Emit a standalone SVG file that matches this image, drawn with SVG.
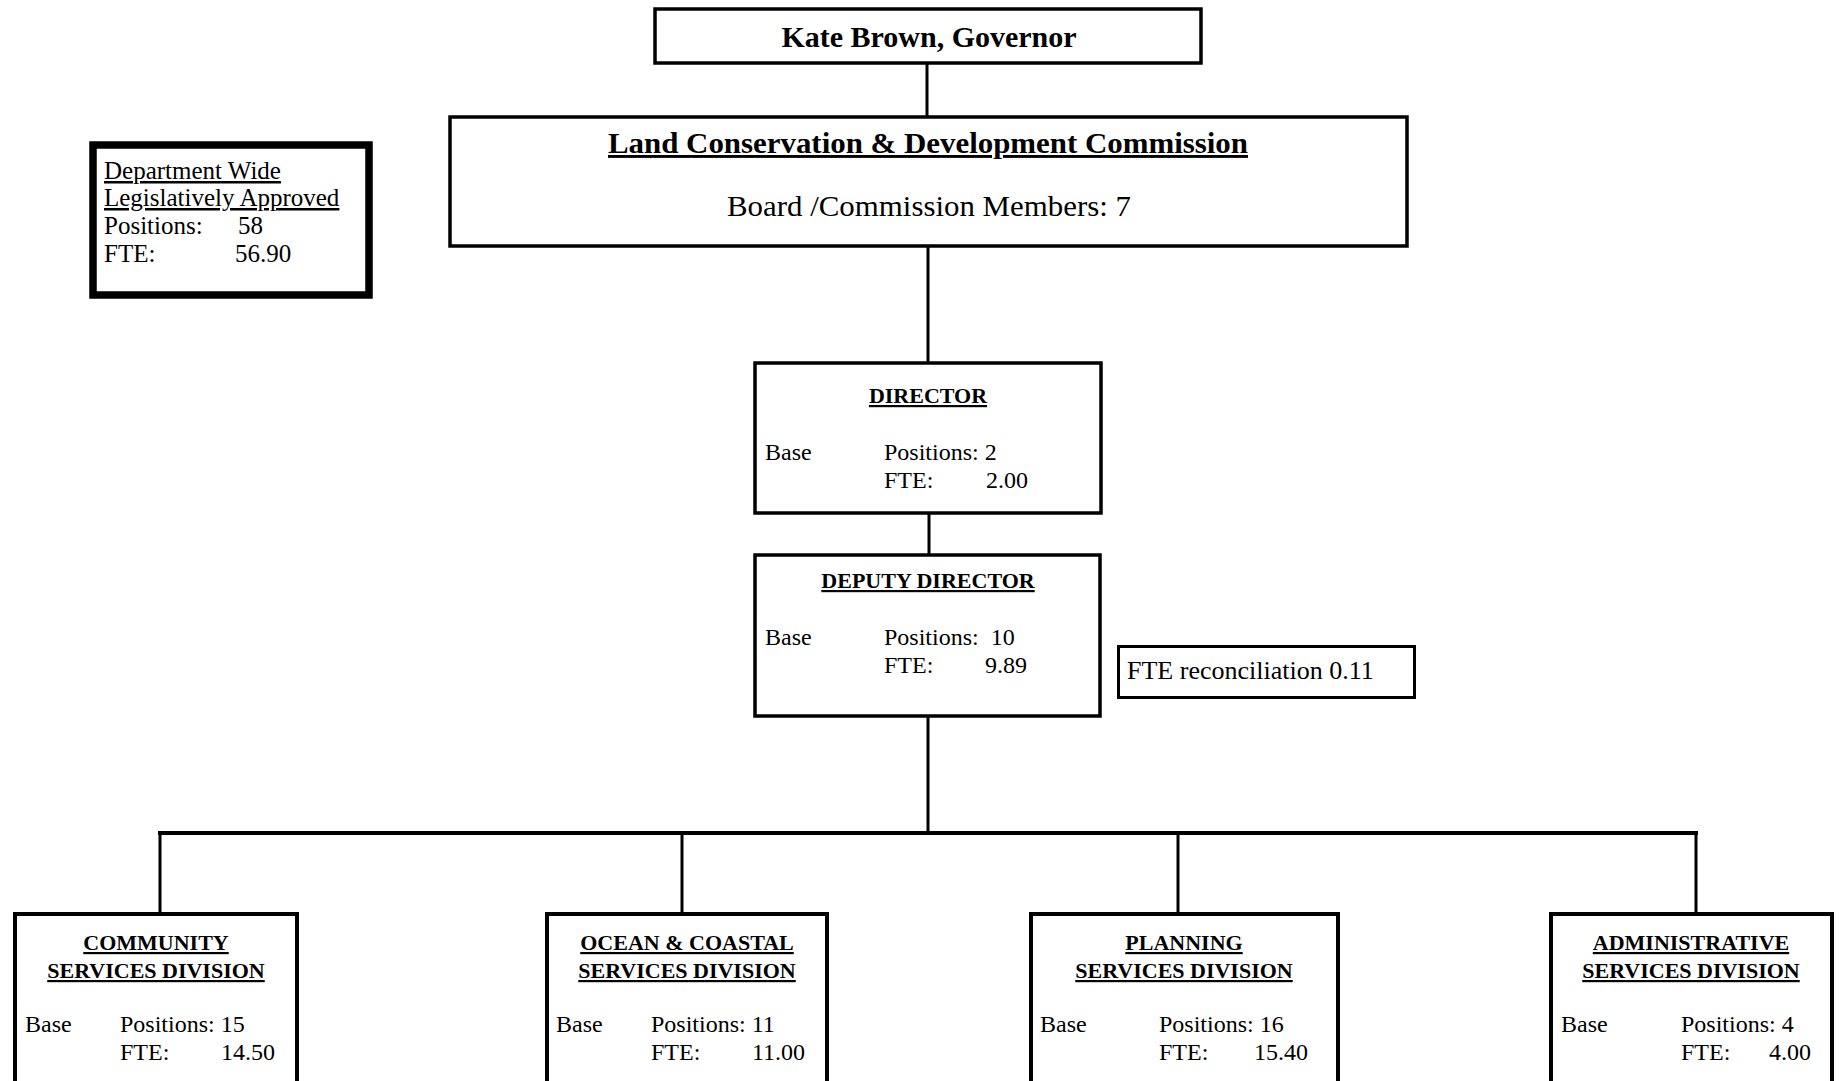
<svg xmlns="http://www.w3.org/2000/svg" width="1841" height="1081" viewBox="0 0 1841 1081">
<style>
.box{fill:#fff;stroke:#000;stroke-width:3.5}
.dbox{fill:#fff;stroke:#000;stroke-width:4}
.conn{stroke:#000;stroke-width:3;fill:none}
.t{font-family:"Liberation Serif","Times New Roman",serif;fill:#000}
.b{font-weight:bold}
.u{text-decoration:underline}
.s22{font-size:22px}
.s24{font-size:24px}
.s25{font-size:25px}
.mid{text-anchor:middle}
</style>
<rect width="1841" height="1081" fill="#fff"/>
<g id="connectors">
<line class="conn" x1="927" y1="63" x2="927" y2="117"/>
<line class="conn" x1="928" y1="246" x2="928" y2="363"/>
<line class="conn" x1="929" y1="513" x2="929" y2="555"/>
<line class="conn" x1="928" y1="716" x2="928" y2="833"/>
<line class="conn" style="stroke-width:4" x1="158" y1="833" x2="1698" y2="833"/>
<line class="conn" x1="160" y1="833" x2="160" y2="914"/>
<line class="conn" x1="682" y1="833" x2="682" y2="914"/>
<line class="conn" x1="1178" y1="833" x2="1178" y2="914"/>
<line class="conn" x1="1696" y1="833" x2="1696" y2="914"/>
</g>
<g id="governor">
<rect class="box" x="655" y="9" width="546" height="54"/>
<text class="t b mid" x="929" y="47" font-size="30">Kate Brown, Governor</text>
</g>
<g id="lcdc">
<rect class="box" x="450" y="117" width="957" height="129"/>
<text class="t b u mid" x="928" y="153" font-size="29" textLength="640" lengthAdjust="spacingAndGlyphs">Land Conservation &amp; Development Commission</text>
<text class="t mid" x="929" y="216" font-size="29" textLength="404" lengthAdjust="spacingAndGlyphs">Board /Commission Members: 7</text>
</g>
<g id="dept-wide">
<rect x="93" y="145" width="276" height="150" fill="#fff" stroke="#000" stroke-width="7.5"/>
<text class="t u s25" x="104" y="179">Department Wide</text>
<text class="t u s25" x="104" y="206">Legislatively Approved</text>
<text class="t s25" x="104" y="234">Positions:</text>
<text class="t s25" x="238" y="234">58</text>
<text class="t s25" x="104" y="262">FTE:</text>
<text class="t s25" x="235" y="262">56.90</text>
</g>
<g id="director">
<rect class="box" x="755" y="363" width="346" height="150"/>
<text class="t b u mid s22" x="928" y="403">DIRECTOR</text>
<text class="t s24" x="765" y="460">Base</text>
<text class="t s24" x="884" y="460">Positions: 2</text>
<text class="t s24" x="884" y="488">FTE:</text>
<text class="t s24" x="986" y="488">2.00</text>
</g>
<g id="deputy-director">
<rect class="box" x="755" y="555" width="345" height="161"/>
<text class="t b u mid s22" x="928" y="588">DEPUTY DIRECTOR</text>
<text class="t s24" x="765" y="645">Base</text>
<text class="t s24" x="884" y="645" xml:space="preserve">Positions:  10</text>
<text class="t s24" x="884" y="673">FTE:</text>
<text class="t s24" x="985" y="673">9.89</text>
</g>
<g id="fte-reconciliation">
<rect x="1118.5" y="646.5" width="296" height="51" fill="#fff" stroke="#000" stroke-width="3"/>
<text class="t" x="1127" y="679" font-size="26">FTE reconciliation 0.11</text>
</g>
<g id="community">
<rect class="dbox" x="15" y="914" width="282" height="200"/>
<text class="t b u mid s22" x="156" y="950">COMMUNITY</text>
<text class="t b u mid s22" x="156" y="978">SERVICES DIVISION</text>
<text class="t s24" x="25" y="1032">Base</text>
<text class="t s24" x="120" y="1032">Positions: 15</text>
<text class="t s24" x="120" y="1060">FTE:</text>
<text class="t s24" x="221" y="1060">14.50</text>
</g>
<g id="ocean-coastal">
<rect class="dbox" x="547" y="914" width="280" height="200"/>
<text class="t b u mid s22" x="687" y="950">OCEAN &amp; COASTAL</text>
<text class="t b u mid s22" x="687" y="978">SERVICES DIVISION</text>
<text class="t s24" x="556" y="1032">Base</text>
<text class="t s24" x="651" y="1032">Positions: 11</text>
<text class="t s24" x="651" y="1060">FTE:</text>
<text class="t s24" x="752" y="1060">11.00</text>
</g>
<g id="planning">
<rect class="dbox" x="1031" y="914" width="307" height="200"/>
<text class="t b u mid s22" x="1184" y="950">PLANNING</text>
<text class="t b u mid s22" x="1184" y="978">SERVICES DIVISION</text>
<text class="t s24" x="1040" y="1032">Base</text>
<text class="t s24" x="1159" y="1032">Positions: 16</text>
<text class="t s24" x="1159" y="1060">FTE:</text>
<text class="t s24" x="1254" y="1060">15.40</text>
</g>
<g id="administrative">
<rect class="dbox" x="1551" y="914" width="281" height="200"/>
<text class="t b u mid s22" x="1691" y="950">ADMINISTRATIVE</text>
<text class="t b u mid s22" x="1691" y="978">SERVICES DIVISION</text>
<text class="t s24" x="1561" y="1032">Base</text>
<text class="t s24" x="1681" y="1032">Positions: 4</text>
<text class="t s24" x="1681" y="1060">FTE:</text>
<text class="t s24" x="1769" y="1060">4.00</text>
</g>
</svg>
